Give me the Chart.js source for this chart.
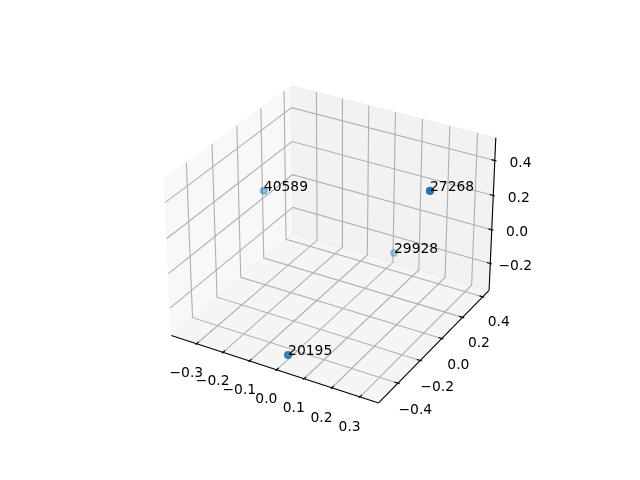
<!DOCTYPE html>
<html>
<head>
<meta charset="utf-8">
<title>3D scatter</title>
<script src="https://cdn.jsdelivr.net/npm/chart.js@4"></script>
<style>
	html, body { margin: 0; padding: 0; background: #fff; }
	canvas { display: block; }
</style>
</head>
<body>
<canvas id="myChart" width="640" height="480"></canvas>
<script>
// values
var pointLabels = ['40589', '27268', '29928', '20195'];
var xValues = [-0.349, 0.316, 0.0295, 0.013];
var yValues = [0.108, -0.019, 0.399, -0.503];
var zValues = [0.117, 0.469, -0.252, -0.312];

var xLimits = [-0.382, 0.35];
var yLimits = [-0.548, 0.444];
var zLimits = [-0.344, 0.51];

var xTicks = [-0.3, -0.2, -0.1, 0.0, 0.1, 0.2, 0.3];
var yTicks = [-0.4, -0.2, 0.0, 0.2, 0.4];
var zTicks = [-0.2, 0.0, 0.2, 0.4];

// camera and box, same as mplot3d with elev 30, azim -60
var elev = 30 * Math.PI / 180;
var azim = -60 * Math.PI / 180;
var dist = 10;
var boxSize = [1.1428, 1.1428, 0.8571];
var pixelsPerUnit = 2079;
var centerX = 333, centerY = 237;

var w = [Math.cos(elev) * Math.cos(azim), Math.cos(elev) * Math.sin(azim), Math.sin(elev)];
var u = [-Math.sin(azim), Math.cos(azim), 0];
var v = [w[1] * u[2] - w[2] * u[1], w[2] * u[0] - w[0] * u[2], w[0] * u[1] - w[1] * u[0]];

function dot(a, b) { return a[0] * b[0] + a[1] * b[1] + a[2] * b[2]; }

// the panes stick out 1/48 of the range on each side
function paneRange(lim) {
	var pad = (lim[1] - lim[0]) / 48;
	return [lim[0] - pad, lim[1] + pad];
}
var xPane = paneRange(xLimits), yPane = paneRange(yLimits), zPane = paneRange(zLimits);

function toBox(x, y, z) {
	return [
		((x - xPane[0]) / (xPane[1] - xPane[0]) - 0.5) * boxSize[0],
		((y - yPane[0]) / (yPane[1] - yPane[0]) - 0.5) * boxSize[1],
		((z - zPane[0]) / (zPane[1] - zPane[0]) - 0.5) * boxSize[2]
	];
}
function projectBox(q) {
	var d = dist - dot(w, q);
	return { x: dot(u, q) / d, y: dot(v, q) / d };
}
function project(x, y, z) { return projectBox(toBox(x, y, z)); }

// depth shade like scatter's depthshade
var depths = xValues.map(function(x, i){ return dot(w, toBox(x, yValues[i], zValues[i])); });
var minDepth = Math.min.apply(null, depths), maxDepth = Math.max.apply(null, depths);
var pointColors = depths.map(function(dp){
	var alpha = 0.3 + 0.7 * (dp - minDepth) / (maxDepth - minDepth);
	return 'rgba(31,119,180,' + alpha.toFixed(3) + ')';
});

var datasets = [{
	type: 'scatter',
	order: 0,
	data: xValues.map(function(x, i){ return project(x, yValues[i], zValues[i]); }),
	pointRadius: 3.1,
	pointBorderWidth: 2,
	pointBackgroundColor: pointColors,
	pointBorderColor: pointColors
}];

function addLine(points, color, order) {
	datasets.push({
		type: 'line',
		order: order,
		data: points,
		borderColor: color,
		borderWidth: 1.11,
		pointRadius: 0,
		tension: 0,
		fill: false
	});
}

// grid lines
xTicks.forEach(function(t){
	addLine([project(t, yPane[0], zPane[0]), project(t, yPane[1], zPane[0]), project(t, yPane[1], zPane[1])], '#b0b0b0', 3);
});
yTicks.forEach(function(t){
	addLine([project(xPane[1], t, zPane[0]), project(xPane[0], t, zPane[0]), project(xPane[0], t, zPane[1])], '#b0b0b0', 3);
});
zTicks.forEach(function(t){
	addLine([project(xPane[0], yPane[0], t), project(xPane[0], yPane[1], t), project(xPane[1], yPane[1], t)], '#b0b0b0', 3);
});

// axis lines
addLine([project(xPane[0], yPane[0], zPane[0]), project(xPane[1], yPane[0], zPane[0])], '#000', 2);
addLine([project(xPane[1], yPane[0], zPane[0]), project(xPane[1], yPane[1], zPane[0])], '#000', 2);
addLine([project(xPane[1], yPane[1], zPane[0]), project(xPane[1], yPane[1], zPane[1])], '#000', 2);

// tick marks
var xDelta = (xLimits[1] - xLimits[0]) / 12, yDelta = (yLimits[1] - yLimits[0]) / 12;
xTicks.forEach(function(t){
	addLine([project(t, yPane[0] - 0.1 * yDelta, zPane[0]), project(t, yPane[0] + 0.2 * yDelta, zPane[0])], '#000', 1);
});
yTicks.forEach(function(t){
	addLine([project(xPane[1] + 0.1 * xDelta, t, zPane[0]), project(xPane[1] - 0.2 * xDelta, t, zPane[0])], '#000', 1);
});
zTicks.forEach(function(t){
	addLine([project(xPane[1] + 0.1 * xDelta, yPane[1], t), project(xPane[1] - 0.2 * xDelta, yPane[1], t)], '#000', 1);
});

function tickText(t, digits) {
	return t.toFixed(digits).replace('-', '\u2212');
}

var boxPlugin = {
	id: 'boxPlugin',
	beforeDatasetsDraw: function(chart) {
		var ctx = chart.ctx;
		var sx = chart.scales.x, sy = chart.scales.y;
		function pane(corners, fill) {
			ctx.beginPath();
			corners.forEach(function(c, i){
				var p = project(c[0], c[1], c[2]);
				if (i === 0) ctx.moveTo(sx.getPixelForValue(p.x), sy.getPixelForValue(p.y));
				else ctx.lineTo(sx.getPixelForValue(p.x), sy.getPixelForValue(p.y));
			});
			ctx.closePath();
			ctx.fillStyle = fill;
			ctx.fill();
			ctx.strokeStyle = fill;
			ctx.lineWidth = 1;
			ctx.stroke();
		}
		ctx.save();
		pane([[xPane[0], yPane[0], zPane[0]], [xPane[0], yPane[1], zPane[0]], [xPane[0], yPane[1], zPane[1]], [xPane[0], yPane[0], zPane[1]]], 'rgba(242,242,242,0.5)');
		pane([[xPane[0], yPane[1], zPane[0]], [xPane[1], yPane[1], zPane[0]], [xPane[1], yPane[1], zPane[1]], [xPane[0], yPane[1], zPane[1]]], 'rgba(230,230,230,0.5)');
		pane([[xPane[0], yPane[0], zPane[0]], [xPane[1], yPane[0], zPane[0]], [xPane[1], yPane[1], zPane[0]], [xPane[0], yPane[1], zPane[0]]], 'rgba(236,236,236,0.5)');
		ctx.restore();
	},
	afterDatasetsDraw: function(chart) {
		var ctx = chart.ctx;
		var sx = chart.scales.x, sy = chart.scales.y;
		function put(text, p) {
			ctx.fillText(text, sx.getPixelForValue(p.x), sy.getPixelForValue(p.y));
		}
		ctx.save();
		ctx.font = '13.89px "DejaVu Sans"';
		ctx.fillStyle = '#000';

		ctx.textAlign = 'center';
		ctx.textBaseline = 'middle';
		xTicks.forEach(function(t){
			var q = toBox(t, yPane[0], zPane[0]);
			put(tickText(t, 1), projectBox([q[0], q[1] - 0.096, q[2] - 0.112]));
		});
		yTicks.forEach(function(t){
			var q = toBox(xPane[1], t, zPane[0]);
			put(tickText(t, 1), projectBox([q[0] + 0.094, q[1], q[2] - 0.121]));
		});
		zTicks.forEach(function(t){
			var q = toBox(xPane[1], yPane[1], t);
			put(tickText(t, 1), projectBox([q[0] + 0.094, q[1] + 0.094, q[2] - 0.036]));
		});

		// point labels sit on the point, left aligned
		ctx.textAlign = 'left';
		ctx.textBaseline = 'alphabetic';
		pointLabels.forEach(function(label, i){
			put(label, project(xValues[i], yValues[i], zValues[i]));
		});
		ctx.restore();
	}
};

var myChart = new Chart(document.getElementById('myChart').getContext('2d'), {
	data: { datasets: datasets },
	plugins: [boxPlugin],
	options: {
		responsive: false,
		animation: false,
		events: [],
		layout: { padding: 0, autoPadding: false },
		plugins: { legend: { display: false }, tooltip: { enabled: false } },
		scales: {
			x: { type: 'linear', display: false, bounds: 'data', min: -centerX / pixelsPerUnit, max: (640 - centerX) / pixelsPerUnit },
			y: { type: 'linear', display: false, bounds: 'data', min: (centerY - 480) / pixelsPerUnit, max: centerY / pixelsPerUnit }
		}
	}
});
</script>
</body>
</html>
